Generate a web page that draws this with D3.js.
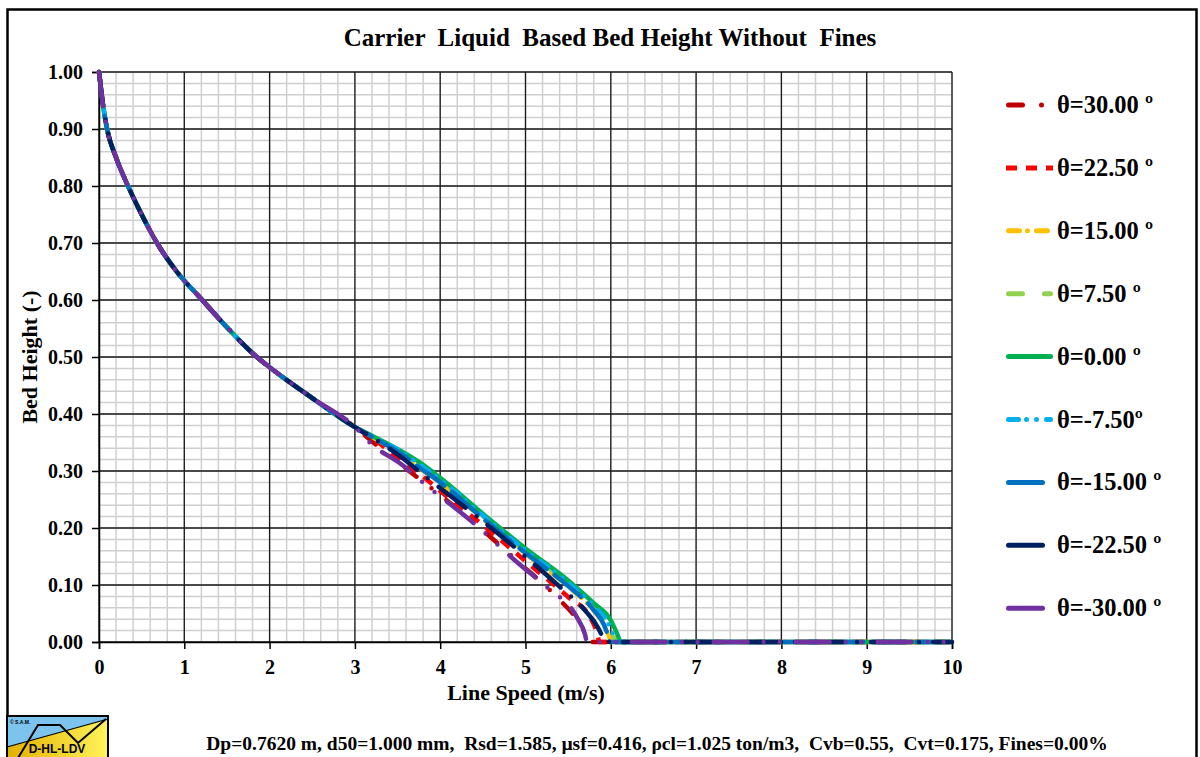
<!DOCTYPE html>
<html>
  <head>
    <meta charset="utf-8">
    <title>Carrier Liquid Based Bed Height Without Fines</title>
    <style>
      body { margin: 0; background: #fff; }
      text { font-family: "Liberation Serif", "Times New Roman", serif; font-weight: bold; fill: #000; }
    </style>
  </head>
  <body>
    <script src="https://d3js.org/d3.v7.min.js"></script>
    <svg id="chart" width="1200" height="757"></svg>
    <script>
      // shared part of every curve (line speed m/s, bed height -)
      const commonSpeed  = [0, 0.02, 0.04, 0.095, 0.2, 0.34, 0.5, 0.68, 0.91, 1.21, 1.5, 1.85, 2.0, 2.5, 3.0]
      const commonHeight = [1.0, 0.975, 0.95, 0.9, 0.85, 0.8, 0.75, 0.7, 0.65, 0.6, 0.552, 0.5, 0.482, 0.428, 0.377]

      const seriesNames = ["θ=30.00 º", "θ=22.50 º", "θ=15.00 º", "θ=7.50 º", "θ=0.00 º",
                           "θ=-7.50º", "θ=-15.00 º", "θ=-22.50 º", "θ=-30.00 º"]
      const seriesColors = ["#C00000", "#FF0000", "#FFC000", "#92D050", "#00B050",
                            "#00B0F0", "#0070C0", "#002060", "#7030A0"]
      const seriesDash = ["14,19,0,19", "11,9", "11,8,0,9", "14,22", null,
                          "10,8,0,10,0,10", "34,10", "34,14,0,14", "34,16,0,16,0,16"]
      const seriesCap = ["round", "butt", "round", "round", "round", "round", "round", "round", "round"]

      // tail of each curve after 3 m/s
      const tailSpeed = [
        [3.2, 3.55, 3.92, 4.47, 4.91, 5.4, 5.6, 5.68, 5.72, 10],
        [3.2, 3.55, 3.7, 4.0, 4.5, 5.0, 5.5, 5.75, 5.83, 5.87, 10],
        [3.2, 3.6, 3.74, 4.0, 4.5, 5.0, 5.5, 5.8, 5.92, 5.98, 6.0, 10],
        [3.2, 3.6, 3.75, 4.0, 4.5, 5.0, 5.5, 5.8, 5.95, 6.03, 6.06, 10],
        [3.2, 3.6, 3.76, 4.0, 4.5, 5.0, 5.5, 5.8, 6.0, 6.07, 6.12, 10],
        [3.2, 3.6, 3.75, 4.0, 4.5, 5.0, 5.5, 5.8, 5.96, 6.03, 6.06, 10],
        [3.2, 3.6, 3.74, 4.0, 4.5, 5.0, 5.5, 5.8, 5.92, 5.97, 5.99, 10],
        [3.2, 3.6, 3.73, 4.0, 4.5, 5.0, 5.4, 5.7, 5.85, 5.91, 5.92, 10],
        [3.18, 3.56, 3.74, 3.92, 4.35, 4.94, 5.26, 5.6, 5.7, 5.72, 10]
      ]
      const tailHeight = [
        [0.352, 0.31, 0.267, 0.2, 0.141, 0.074, 0.04, 0.02, 0, 0],
        [0.358, 0.318, 0.302, 0.265, 0.205, 0.142, 0.079, 0.045, 0.02, 0, 0],
        [0.36, 0.323, 0.307, 0.279, 0.216, 0.155, 0.097, 0.055, 0.03, 0.01, 0, 0],
        [0.361, 0.327, 0.311, 0.284, 0.221, 0.16, 0.103, 0.062, 0.035, 0.012, 0, 0],
        [0.362, 0.33, 0.315, 0.288, 0.225, 0.164, 0.108, 0.068, 0.038, 0.016, 0, 0],
        [0.361, 0.328, 0.312, 0.285, 0.222, 0.161, 0.104, 0.063, 0.035, 0.012, 0, 0],
        [0.36, 0.324, 0.308, 0.28, 0.217, 0.156, 0.098, 0.056, 0.03, 0.01, 0, 0],
        [0.359, 0.318, 0.302, 0.27, 0.212, 0.15, 0.097, 0.055, 0.025, 0.005, 0, 0],
        [0.349, 0.31, 0.287, 0.265, 0.214, 0.135, 0.095, 0.044, 0.012, 0, 0]
      ]

      const footer = "Dp=0.7620 m, d50=1.000 mm,  Rsd=1.585, µsf=0.416, ρcl=1.025 ton/m3,  Cvb=0.55,  Cvt=0.175, Fines=0.00%"

      const svg = d3.select('#chart')
      const x = d3.scaleLinear().domain([0, 10]).range([99, 952])
      const y = d3.scaleLinear().domain([0, 1]).range([642, 72])

      // outer frame
      svg.append('rect').attr('x', 7.5).attr('y', 9.5).attr('width', 1189).attr('height', 760)
        .attr('fill', 'none').attr('stroke', '#000').attr('stroke-width', 2.5)

      // grid
      const grid = svg.append('g')
      grid.selectAll('.vminor').data(x.ticks(50)).join('line')
        .attr('x1', d => x(d)).attr('x2', d => x(d)).attr('y1', y(0)).attr('y2', y(1))
        .attr('stroke', '#cfcfcf').attr('stroke-width', 1.5)
      grid.selectAll('.hminor').data(y.ticks(50)).join('line')
        .attr('y1', d => y(d)).attr('y2', d => y(d)).attr('x1', x(0)).attr('x2', x(10))
        .attr('stroke', '#cfcfcf').attr('stroke-width', 1.5)
      grid.selectAll('.vmajor').data(x.ticks(10)).join('line')
        .attr('x1', d => x(d)).attr('x2', d => x(d)).attr('y1', y(0)).attr('y2', y(1))
        .attr('stroke', '#1a1a1a').attr('stroke-width', 1.3)
      grid.selectAll('.hmajor').data(y.ticks(10)).join('line')
        .attr('y1', d => y(d)).attr('y2', d => y(d)).attr('x1', x(0)).attr('x2', x(10))
        .attr('stroke', '#1a1a1a').attr('stroke-width', 1.3)

      // axes
      const yAxis = svg.append('g').attr('transform', `translate(${x(0)},0)`)
        .call(d3.axisLeft(y).tickValues(y.ticks(10)).tickFormat(d3.format('.2f')).tickSize(7).tickPadding(9))
      const xAxis = svg.append('g').attr('transform', `translate(0,${y(0)})`)
        .call(d3.axisBottom(x).tickValues(x.ticks(10)).tickFormat(d3.format('d')).tickSize(7).tickPadding(11))
      for (const ax of [xAxis, yAxis]) {
        ax.select('.domain').attr('stroke', '#000').attr('stroke-width', 1.5)
        ax.selectAll('.tick line').attr('stroke', '#000').attr('stroke-width', 1.5)
        ax.selectAll('.tick text').style('font-family', '"Liberation Serif", serif')
          .style('font-weight', 'bold').style('font-size', '20px').attr('fill', '#000')
      }

      // curves
      const line = d3.line().x(d => x(d[0])).y(d => y(d[1])).curve(d3.curveMonotoneX)
      seriesNames.forEach((name, i) => {
        const pts = commonSpeed.map((v, k) => [v, commonHeight[k]])
          .concat(tailSpeed[i].map((v, k) => [v, tailHeight[i][k]]))
        svg.append('path').datum(pts)
          .attr('d', line)
          .attr('fill', 'none')
          .attr('stroke', seriesColors[i])
          .attr('stroke-width', 4.5)
          .attr('stroke-linecap', seriesCap[i])
          .attr('stroke-linejoin', 'round')
          .attr('stroke-dasharray', seriesDash[i])
      })

      // legend
      const legend = svg.append('g')
      seriesNames.forEach((name, i) => {
        const cy = 105 + i * 62.9
        const cap = seriesCap[i] === 'round' ? 2.5 : 0
        legend.append('line')
          .attr('x1', 1006 + cap).attr('x2', 1053 - cap).attr('y1', cy).attr('y2', cy)
          .attr('stroke', seriesColors[i]).attr('stroke-width', 5)
          .attr('stroke-linecap', seriesCap[i])
          .attr('stroke-dasharray', seriesDash[i])
        legend.append('text').attr('x', 1057).attr('y', cy + 8)
          .style('font-size', '24.5px').style('white-space', 'pre').text(name)
      })

      // titles
      svg.append('text').attr('x', 610).attr('y', 46).attr('text-anchor', 'middle')
        .style('font-size', '25px').style('white-space', 'pre')
        .text('Carrier  Liquid  Based Bed Height Without  Fines')
      svg.append('text').attr('x', 526).attr('y', 700).attr('text-anchor', 'middle')
        .style('font-size', '22px').text('Line Speed (m/s)')
      svg.append('text').attr('transform', 'translate(37,357) rotate(-90)').attr('text-anchor', 'middle')
        .style('font-size', '22px').text('Bed Height (-)')
      svg.append('text').attr('x', 657).attr('y', 750).attr('text-anchor', 'middle')
        .style('font-size', '19.5px').style('white-space', 'pre').text(footer)

      // logo
      const logo = svg.append('g').attr('transform', 'translate(7,716)')
      const grad = svg.append('defs').append('linearGradient').attr('id', 'ylw')
      grad.append('stop').attr('offset', '0%').attr('stop-color', '#E2B100')
      grad.append('stop').attr('offset', '100%').attr('stop-color', '#FFF35A')
      logo.append('rect').attr('width', 101).attr('height', 45).attr('fill', 'url(#ylw)')
      logo.append('path').attr('d', 'M0,0 H101 V3 L0,31 Z').attr('fill', '#7CC4EE')
      logo.append('path').attr('d', 'M0,31 L101,3').attr('stroke', '#000').attr('stroke-width', 1.2)
      logo.append('path').attr('d', 'M11,42 L31,9 H53 L71,27 L99,3')
        .attr('fill', 'none').attr('stroke', '#000').attr('stroke-width', 2)
      logo.append('rect').attr('width', 101).attr('height', 45)
        .attr('fill', 'none').attr('stroke', '#000').attr('stroke-width', 2)
      logo.append('text').attr('x', 3).attr('y', 8).style('font-family', 'Arial, sans-serif')
        .style('font-size', '5px').text('© S.A.M.')
      logo.append('text').attr('x', 50).attr('y', 37).attr('text-anchor', 'middle')
        .style('font-family', '"Liberation Sans", Arial, sans-serif').style('font-size', '12px')
        .attr('fill', '#111').text('D-HL-LDV')
    </script>
  </body>
</html>
